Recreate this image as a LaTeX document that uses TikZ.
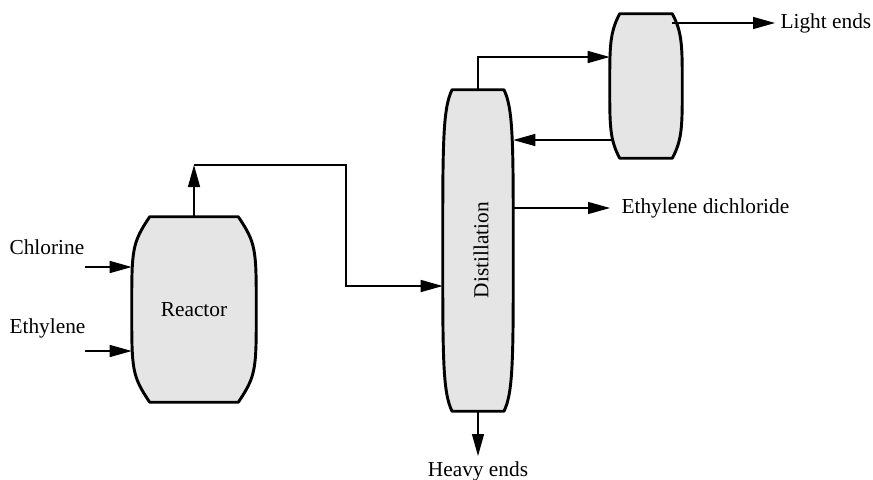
\documentclass[tikz,border=0pt]{standalone}
\usepackage{fontspec}
\setmainfont{Liberation Serif}
\usetikzlibrary{arrows.meta,positioning,backgrounds}

% barrel outline behind a named vessel node: name, corner inset, top bend, side bend
\newcommand{\vesselshape}[4]{%
  \begin{scope}[on background layer]
    \draw[shell] ([xshift=#2]#1.north west) -- ([xshift=-#2]#1.north east)
      .. controls ([yshift=-#3]#1.north east) and ([yshift=#4]#1.east) .. (#1.east)
      .. controls ([yshift=-#4]#1.east) and ([yshift=#3]#1.south east) .. ([xshift=-#2]#1.south east)
      -- ([xshift=#2]#1.south west)
      .. controls ([yshift=#3]#1.south west) and ([yshift=-#4]#1.west) .. (#1.west)
      .. controls ([yshift=#4]#1.west) and ([yshift=-#3]#1.north west) .. ([xshift=#2]#1.north west)
      -- cycle;
  \end{scope}}

\begin{document}
\begin{tikzpicture}[x=0.75pt,y=-0.75pt,
        vessel/.style={inner sep=0pt,font=\fontsize{16}{19}\selectfont},
        shell/.style={draw=black,fill=gray!20,line width=2.2pt,line join=round},
        tag/.style={font=\fontsize{16}{19}\selectfont,inner sep=4pt},
        flow/.style={-{Triangle[length=16.5pt,width=9pt]},line width=1pt}
        ]
        \useasboundingbox (0,0) rectangle (873,479);

        % vessels
        \node[vessel,minimum width=93pt,minimum height=138.75pt] (reactor) at (194,309.5) {Reactor};
        \vesselshape{reactor}{13.5pt}{20pt}{45pt}
        \node[vessel,minimum width=52.5pt,minimum height=240.75pt] (column) at (478,250.5) {};
        \vesselshape{column}{7pt}{14pt}{80pt}
        \node[tag,rotate=90] (columntxt) at (481,250) {Distillation};
        \node[vessel,minimum width=54pt,minimum height=108pt] (drum) at (646,86) {};
        \vesselshape{drum}{7.5pt}{14pt}{30pt}

        % stream names
        \node[tag,anchor=west] (chlorine) at (4,247) {Chlorine};
        \node[tag,anchor=west] (ethylene) at (4,328) {Ethylene};
        \node[tag,anchor=west] (light) at (775,23) {Light ends};
        \node[tag,anchor=west] (edc) at (616,208) {Ethylene dichloride};
        \node[tag,anchor=north] (heavy) at (478,456) {Heavy ends};

        % feeds
        \coordinate (clin) at (85,267);
        \coordinate (ethin) at (85,351);
        \draw[flow] (clin) -- (clin -| reactor.west);
        \draw[flow] (ethin) -- (ethin -| reactor.west);

        % reactor to column
        \coordinate (rtop) at (194,165);
        \coordinate (rbend) at (346,286);
        \draw[flow] (reactor.north) -- (rtop);
        \draw[flow] (rtop) -| (rbend) -- (rbend -| column.west);

        % overhead and reflux
        \coordinate (ovhd) at (478,57);
        \coordinate (refl) at (613,140);
        \coordinate (vent) at (672,23);
        \draw[flow] (column.north) -- (ovhd) -- (ovhd -| drum.west);
        \draw[flow] (refl) -- (refl -| column.east);
        \draw[flow] (vent) -- (light.west);

        % products
        \draw[flow,shorten >=4.5pt] (column.east |- edc) -- (edc.west);
        \draw[flow] (column.south) -- (heavy.north);
\end{tikzpicture}
\end{document}
